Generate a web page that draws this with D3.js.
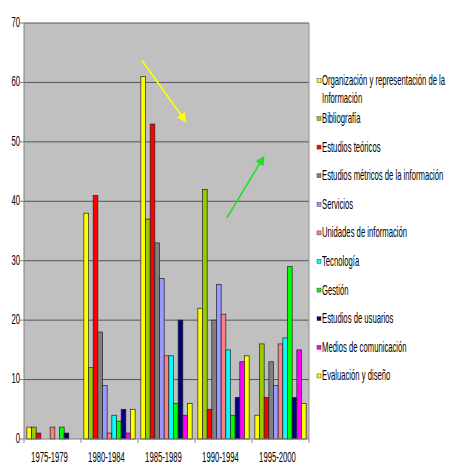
<!DOCTYPE html>
<html>
<head>
<meta charset="utf-8">
<script src="https://cdn.jsdelivr.net/npm/d3@7"></script>
<style>
  body { margin: 0; background: #fff; }
  text { font-family: "Liberation Sans", Arial, sans-serif; fill: #000; }
</style>
</head>
<body>
<script>
// Periods on the x axis
const categories = ['1975-1979', '1980-1984', '1985-1989', '1990-1994', '1995-2000'];

// One array per subject, values per period
const organizacion = [2, 38, 61, 22, 4];
const bibliografia = [2, 12, 37, 42, 16];
const teoricos = [1, 41, 53, 5, 7];
const metricos = [0, 18, 33, 20, 13];
const servicios = [0, 9, 27, 26, 9];
const unidades = [2, 1, 14, 21, 16];
const tecnologia = [0, 4, 14, 15, 17];
const gestion = [2, 3, 6, 4, 29];
const usuarios = [1, 5, 20, 7, 7];
const medios = [0, 1, 4, 13, 15];
const evaluacion = [0, 5, 6, 14, 6];

const seriesNames = [
  ['Organización y representación de la', 'Información'],
  ['Bibliografía'],
  ['Estudios teóricos'],
  ['Estudios métricos de la información'],
  ['Servicios'],
  ['Unidades de información'],
  ['Tecnología'],
  ['Gestión'],
  ['Estudios de usuarios'],
  ['Medios de comunicación'],
  ['Evaluación y diseño']
];
const seriesValues = [organizacion, bibliografia, teoricos, metricos, servicios,
  unidades, tecnologia, gestion, usuarios, medios, evaluacion];
const seriesColors = ['#ffff00', '#99cc00', '#ff0000', '#808080', '#9999ff',
  '#ff8080', '#00ffff', '#00ff00', '#000080', '#ff00ff', '#ffff00'];

const yTicks = [0, 10, 20, 30, 40, 50, 60, 70];

// Annotation arrows, in category / value terms
const arrows = [
  { color: '#ffff00', from: [2, 0.07, 63.7], to: [2, 0.83, 53.5] },
  { color: '#22dd22', from: [3, 0.56, 37.2], to: [4, 0.2, 47.4] }
];

const width = 449, height = 463;
const plot = { left: 24, right: 309, top: 23, bottom: 439 };
const sx = 0.55; // narrow text

const svg = d3.select('body').append('svg')
  .attr('width', width).attr('height', height);

const x0 = d3.scaleBand().domain(categories)
  .range([plot.left, plot.right]).paddingInner(0.1).paddingOuter(0.05);
const x1 = d3.scaleBand().domain(d3.range(seriesValues.length))
  .range([0, x0.bandwidth()]);
const y = d3.scaleLinear().domain([0, 70]).range([plot.bottom, plot.top]);

// helper for squeezed text
const narrowText = (g, x, yy, str, anchor) => g.append('g')
  .attr('transform', `translate(${x},${yy}) scale(${sx},1)`)
  .append('text')
    .attr('text-anchor', anchor)
    .attr('dy', '0.35em')
    .style('font-size', '14px')
    .text(str);

// plot background
svg.append('rect')
  .attr('x', plot.left).attr('y', plot.top)
  .attr('width', plot.right - plot.left).attr('height', plot.bottom - plot.top)
  .attr('fill', '#c0c0c0');

// gridlines
svg.append('g').selectAll('line').data(yTicks.slice(1))
  .enter().append('line')
    .attr('x1', plot.left).attr('x2', plot.right)
    .attr('y1', d => y(d)).attr('y2', d => y(d))
    .attr('stroke', '#555').attr('stroke-width', 1);

// right border of plot
svg.append('line')
  .attr('x1', plot.right).attr('x2', plot.right)
  .attr('y1', plot.top).attr('y2', plot.bottom)
  .attr('stroke', '#909090');

// bars
const groups = svg.append('g').selectAll('g').data(categories)
  .enter().append('g')
    .attr('transform', d => `translate(${x0(d)},0)`);
groups.selectAll('rect')
  .data((c, ci) => seriesValues.map((s, si) => ({ si, v: s[ci] })).filter(d => d.v > 0))
  .enter().append('rect')
    .attr('x', d => x1(d.si))
    .attr('y', d => y(d.v))
    .attr('width', x1.bandwidth())
    .attr('height', d => y(0) - y(d.v))
    .attr('fill', d => seriesColors[d.si])
    .attr('stroke', '#222')
    .attr('stroke-width', 0.7);

// y axis
const yAxis = svg.append('g');
yAxis.append('line')
  .attr('x1', plot.left).attr('x2', plot.left)
  .attr('y1', plot.top).attr('y2', plot.bottom)
  .attr('stroke', '#808080');
yTicks.forEach(t => {
  yAxis.append('line')
    .attr('x1', plot.left - 4).attr('x2', plot.left)
    .attr('y1', y(t)).attr('y2', y(t))
    .attr('stroke', '#808080');
  narrowText(yAxis, plot.left - 4, y(t) - 1, t, 'end');
});

// x axis
const xAxis = svg.append('g');
xAxis.append('line')
  .attr('x1', plot.left).attr('x2', plot.right)
  .attr('y1', plot.bottom).attr('y2', plot.bottom)
  .attr('stroke', '#808080');
d3.range(categories.length + 1).forEach(i => {
  const bx = plot.left + i * x0.step();
  xAxis.append('line')
    .attr('x1', bx).attr('x2', bx)
    .attr('y1', plot.bottom).attr('y2', plot.bottom + 4)
    .attr('stroke', '#909090');
});
categories.forEach(c => {
  narrowText(xAxis, x0(c) + x0.bandwidth() / 2 - 3, 457, c, 'middle');
});

// arrows
const defs = svg.append('defs');
arrows.forEach((a, i) => {
  defs.append('marker')
    .attr('id', 'head' + i)
    .attr('viewBox', '0 0 10 10')
    .attr('refX', 8).attr('refY', 5)
    .attr('markerWidth', 6).attr('markerHeight', 6)
    .attr('orient', 'auto')
    .append('path')
      .attr('d', 'M0,0 L10,5 L0,10 z')
      .attr('fill', a.color);
  const px = p => x0(categories[p[0]]) - x0.step() * x0.paddingInner() / 2 + p[1] * x0.step();
  svg.append('line')
    .attr('x1', px(a.from)).attr('y1', y(a.from[2]))
    .attr('x2', px(a.to)).attr('y2', y(a.to[2]))
    .attr('stroke', a.color).attr('stroke-width', 1.6)
    .attr('marker-end', `url(#head${i})`);
});

// legend
const legend = svg.append('g');
let ly = 80;
seriesNames.forEach((lines, i) => {
  legend.append('rect')
    .attr('x', 317).attr('y', ly - 1.5)
    .attr('width', 4).attr('height', 4)
    .attr('fill', seriesColors[i])
    .attr('stroke', '#444').attr('stroke-width', 0.5);
  lines.forEach((str, li) => {
    narrowText(legend, 322, ly + li * 18, str, 'start');
  });
  ly += i === 0 ? 38 : 28.6;
});
</script>
</body>
</html>
